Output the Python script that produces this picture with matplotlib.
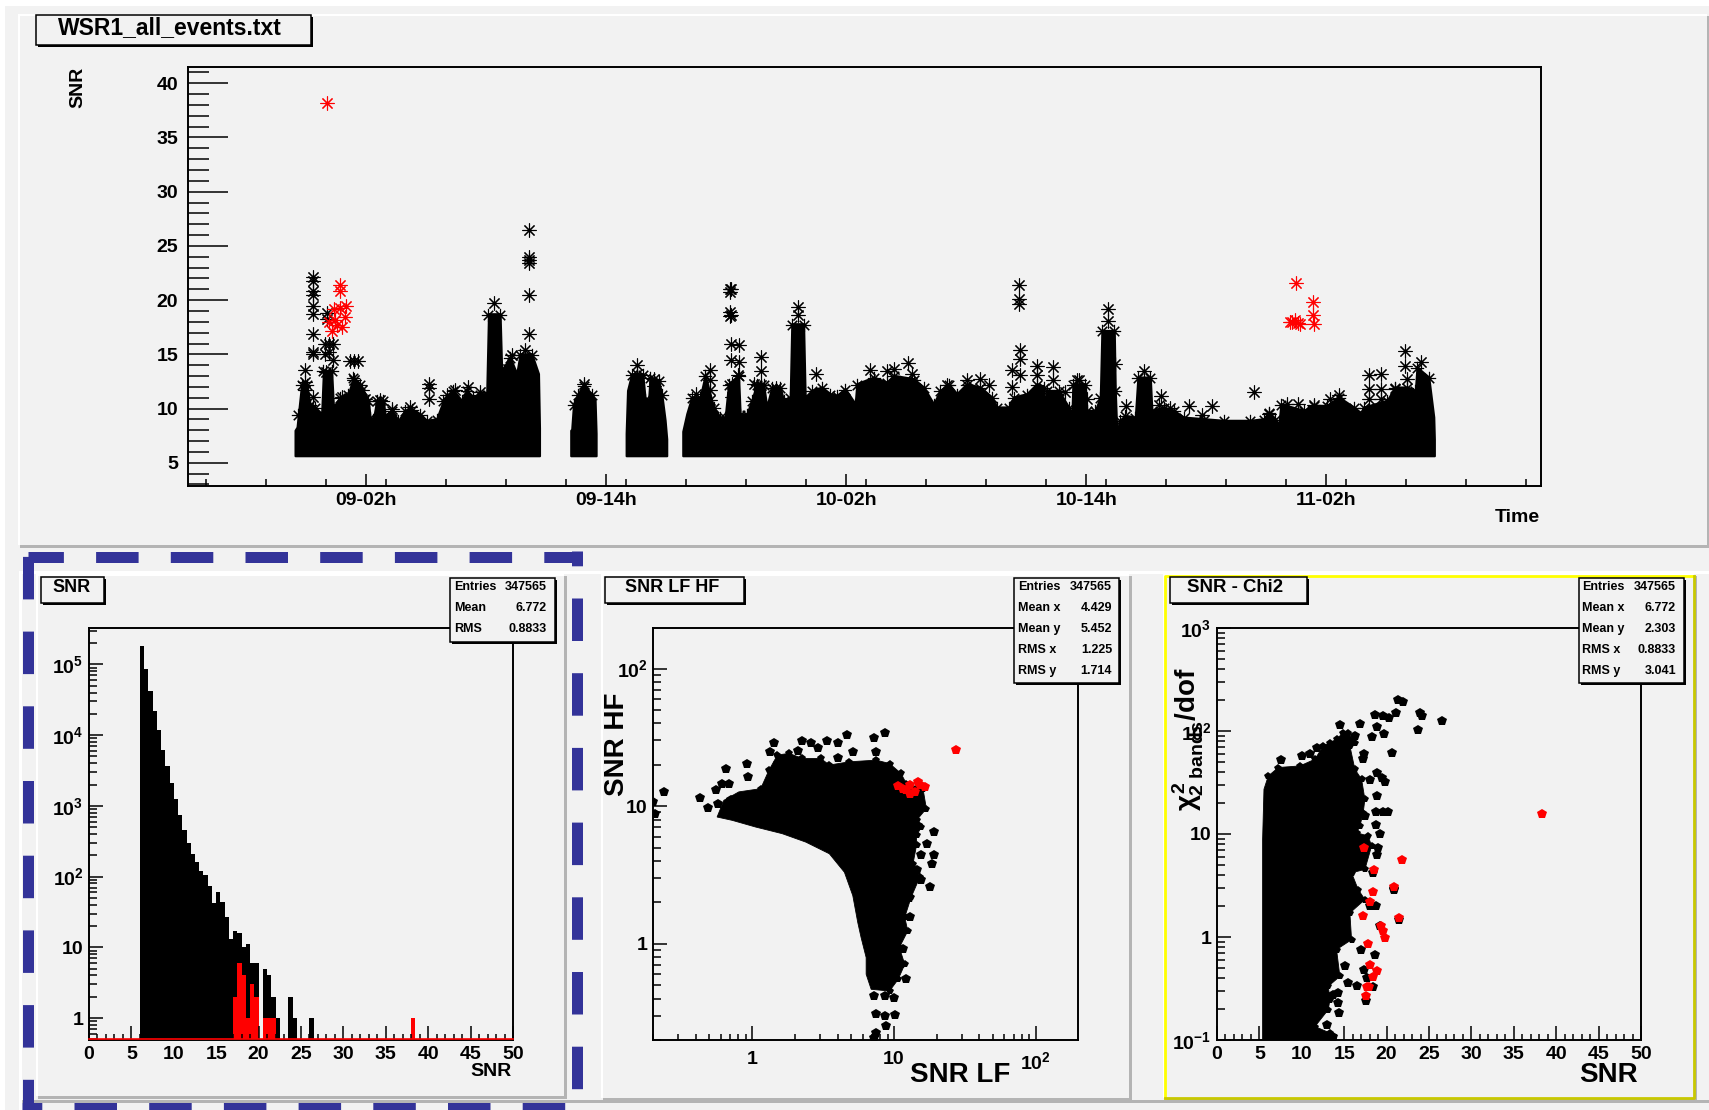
import numpy as np
import matplotlib
matplotlib.use('Agg')
import matplotlib.pyplot as plt
from matplotlib.patches import Rectangle
from matplotlib.lines import Line2D
from matplotlib.ticker import MultipleLocator, LogLocator, NullFormatter, FuncFormatter, FixedLocator

plt.rcParams['font.family'] = ['Liberation Sans', 'DejaVu Sans']
plt.rcParams['font.weight'] = 'bold'
plt.rcParams['mathtext.fontset'] = 'custom'
plt.rcParams['mathtext.rm'] = 'Liberation Sans:bold'
plt.rcParams['mathtext.it'] = 'Liberation Sans:bold'
plt.rcParams['mathtext.bf'] = 'Liberation Sans:bold'
plt.rcParams['lines.scale_dashes'] = False

W, H = 1709, 1110
PANE = '#f2f2f2'
EDGE = '#b4b4b4'
BLUE = '#333399'

# time is in hours after 09-00h
time_ticks = [2, 14, 26, 38, 50]
time_labels = ['09-02h', '09-14h', '10-02h', '10-14h', '11-02h']
snr_floor = 5.65

run1_t = [-1.55, -1.45, -1.38, -1.22, -0.97, -0.8, -0.55, -0.22, -0.13, 0.28, 0.37, 0.7, 1.12, 1.37, 1.7, 2.12, 2.2, 2.37,
          2.53, 2.87, 2.95, 3.28, 3.62, 3.95, 4.28, 4.7, 5.03, 5.53, 5.87, 6.37, 6.78, 7.03, 7.37, 7.7, 8.03, 8.12,
          8.7, 8.78, 9.2, 9.53, 9.7, 10.28, 10.62, 10.67]
run1_snr = [8.3, 8.6, 9.83, 12.6, 12.6, 10.75, 10.45, 9.83, 13.83, 13.83, 10.45, 11.37, 11.68, 13.21, 12.6, 11.06, 9.52, 9.37,
            11.06, 11.06, 9.68, 10.14, 9.22, 10.14, 10.29, 9.83, 9.22, 9.37, 11.06, 11.98, 11.06, 11.98, 11.37, 11.68,
            11.68, 19.05, 19.05, 13.83, 15.05, 13.52, 15.36, 15.36, 13.52, 8.5]
run2_t = [12.23, 12.28, 12.37, 12.6, 12.87, 13.28, 13.45, 13.5]
run2_snr = [8.3, 8.4, 10.75, 11.68, 12.44, 11.68, 11.06, 8.0]
run3_t = [15.0, 15.07, 15.28, 15.83, 15.95, 16.12, 16.2, 16.62, 16.78, 16.95, 17.03]
run3_snr = [8.0, 11.98, 13.52, 13.52, 11.21, 11.06, 13.21, 12.9, 11.68, 9.22, 7.5]
run4_t = [17.83, 18.03, 18.28, 18.7, 18.95, 19.37, 19.7, 19.95, 20.12, 20.62, 20.7, 21.03, 21.28, 21.53, 21.87, 22.03,
          22.28, 22.7, 22.87, 23.2, 23.28, 23.87, 23.95, 24.28, 24.78, 25.2, 25.53, 25.95, 26.45, 26.53, 27.37, 28.03,
          28.37, 29.37, 29.87, 30.37, 30.7, 31.12, 31.53, 32.03, 32.7, 33.28, 33.53, 34.12, 34.37, 35.03, 35.53, 35.87,
          35.95, 36.03, 36.62, 37.12, 37.28, 37.33, 37.95, 38.03, 38.45, 38.7, 38.78, 39.4, 39.45, 39.53, 39.67, 39.95,
          40.45, 40.58, 41.2, 41.28, 41.87, 42.37, 42.87, 43.87, 44.87, 46.2, 46.87, 47.12, 47.45, 47.62, 47.73, 48.87,
          49.37, 50.03, 50.62, 51.37, 51.78, 51.87, 53.03, 53.45, 54.03, 54.45, 54.53, 55.12, 55.37, 55.4]
run4_snr = [8.2, 9.83, 11.37, 11.37, 13.37, 10.45, 9.52, 9.52, 12.6, 13.37, 9.83, 9.83, 11.06, 12.6, 12.6, 10.45,
            12.29, 12.29, 11.06, 11.37, 18.13, 18.13, 11.37, 11.98, 12.29, 11.68, 11.52, 12.14, 10.75, 12.6, 13.21, 12.75,
            13.37, 13.06, 12.29, 10.75, 11.98, 12.6, 11.68, 12.6, 12.29, 11.37, 10.45, 10.45, 11.37, 11.68, 12.6, 12.29,
            10.29, 11.98, 11.98, 10.45, 9.52, 12.6, 12.6, 10.14, 10.14, 11.37, 17.51, 17.51, 12.0, 8.0, 9.22, 9.68,
            9.52, 13.21, 13.21, 10.14, 10.45, 10.14, 9.52, 9.37, 9.22, 9.22, 9.37, 9.99, 9.37, 8.76, 10.75, 10.14,
            10.6, 10.6, 11.37, 10.45, 9.83, 10.45, 11.06, 12.29, 12.29, 11.98, 14.13, 13.21, 9.52, 7.5]

black_t = [-0.66, -0.66, -0.66, -0.66, -0.67, -0.67, -0.67, -0.67, -0.67, -1.05, -1.05, -1.05, -0.63, 0.03, 0.03, 0.17,
           -0.05, 0.37, 0.17, -0.05, 0.37, 0.0, 1.42, 1.2, 1.62, 1.42, 0.78, 1.2, 1.78, 1.95, 2.7, 3.28, 4.2, 5.17, 5.17,
           5.17, 6.45, 6.03, 7.12, 7.12, 7.7, 8.42, 10.15, 10.15, 10.15, 10.15, 10.15, 10.15, 9.28, 9.12, 9.95, 12.87,
           15.53, 15.53, 16.37, 16.37, 20.25, 20.25, 20.25, 20.62, 20.25, 20.62, 20.57, 20.28, 20.28, 19.17, 19.17, 19.17,
           19.17, 18.48, 20.2, 20.2, 20.2, 20.2, 21.75, 21.75, 21.4, 21.75, 22.5, 23.57, 23.57, 23.57, 24.5, 27.17, 28.03,
           28.37, 29.07, 29.28, 32.03, 32.7, 33.12, 31.03, 34.65, 34.65, 34.65, 34.67, 34.67, 34.28, 34.28, 34.7, 35.53,
           35.53, 36.33, 36.33, 36.92, 37.53, 37.65, 38.03, 39.08, 39.08, 39.45, 40.0, 40.87, 41.73, 41.62, 42.2, 43.12,
           44.28, 43.78, 46.37, 47.15, 48.03, 48.57, 49.37, 50.2, 50.62, 52.12, 52.12, 52.12, 52.73, 52.73, 52.73, 53.95,
           53.95, 54.03, 54.73, 53.45]
black_snr = [22.1, 21.8, 20.8, 20.5, 19.5, 18.68, 16.9, 15.2, 15.0, 13.52, 12.44, 11.68, 11.06, 18.8, 18.3, 15.98,
             15.98, 15.98, 15.2, 15.05, 14.44, 13.37, 14.35, 14.35, 14.35, 12.6, 11.06, 10.9, 11.68, 10.9, 10.75, 9.98,
             10.14, 12.29, 11.9, 10.9, 11.68, 11.21, 11.98, 10.29, 11.52, 19.72, 26.5, 24.0, 23.7, 23.4, 20.5, 16.9, 14.9,
             13.67, 15.36, 12.29, 13.98, 13.21, 12.75, 12.1, 18.65, 21.0, 16.0, 15.82, 14.44, 14.29, 13.06, 12.29, 11.06,
             13.52, 12.6, 11.68, 10.75, 11.37, 21.0, 20.75, 18.9, 18.5, 14.75, 13.43, 12.29, 12.14, 11.89, 19.36, 18.59,
             14.13, 13.21, 13.58, 13.46, 13.67, 14.2, 13.15, 12.6, 12.69, 12.14, 12.14, 21.4, 20.1, 19.65, 15.36, 14.6,
             13.58, 11.98, 13.06, 13.92, 13.06, 13.83, 12.6, 11.52, 12.6, 12.6, 10.9, 19.2, 18.07, 14.13, 10.2, 13.46,
             11.15, 10.29, 10.08, 10.2, 10.2, 9.37, 11.52, 9.52, 10.45, 10.45, 10.29, 10.85, 11.21, 13.06, 11.83, 10.9,
             13.21, 11.83, 10.9, 15.27, 13.92, 12.75, 14.29, 11.83]
red_t = [0.05, 0.71, 0.71, 1.0, 0.7, 0.38, 0.93, 0.44, 0.16, 0.57, 0.3, 0.8,
         48.5, 49.33, 49.33, 49.37, 48.3, 48.45, 48.6, 48.7, 48.2]
red_snr = [38.2, 21.4, 20.85, 19.5, 19.3, 19.2, 18.4, 18.2, 18.0, 17.7, 17.2, 17.5,
           21.6, 19.8, 18.59, 17.82, 18.0, 18.13, 17.9, 17.82, 18.0]

# SNR histogram, bins 0.5 wide
hist_edges = np.arange(6, 26.51, 0.5)
hist_counts = [181000, 84700, 41600, 21700, 11700, 6200, 3630, 2080, 1240, 733, 462, 302, 206, 163, 121, 105, 74, 42,
               61, 44, 27, 13, 17, 16, 10, 11, 6, 6, 0, 5, 4, 2, 1, 0, 0, 2, 1, 0, 0, 0, 1]
hist_red_edges = np.arange(17, 22.01, 0.5)
hist_red_counts = [2, 6, 4, 1, 3, 2, 0, 1, 1, 1]
hist_far_edges = [38.0, 38.5]
hist_far_counts = [1]

# SNR LF / SNR HF
lfhf_edge_x = [0.566, 0.632, 0.806, 1.148, 1.315, 1.506, 1.82, 2.26, 3.05, 3.5, 4.84, 7.48, 9.3, 11.2, 12.2, 16.0, 16.9,
               14.4, 15.6, 14.4, 14.4, 13.6, 15.2, 13.2, 11.9, 12.5, 10.9, 11.9, 10.7, 9.3, 6.9, 6.36, 6.36, 5.86, 5.55,
               5.12, 4.47, 3.5, 2.39, 1.63, 1.06, 0.723]
lfhf_edge_y = [8.34, 11.03, 12.7, 13.4, 18.3, 23.5, 24.2, 22.2, 22.2, 19.9, 21.0, 21.6, 20.4, 17.3, 14.6, 13.4, 9.6,
               7.89, 7.05, 6.13, 5.18, 3.81, 3.05, 2.18, 1.56, 1.24, 0.94, 0.71, 0.552, 0.454, 0.467, 0.601, 0.795, 1.11,
               1.43, 2.24, 3.31, 4.51, 5.48, 6.31, 7.05, 7.89]
lfhf_x = [1.43, 1.34, 2.26, 2.59, 2.89, 3.35, 2.09, 4.05, 4.64, 7.28, 8.57, 5.12, 7.48, 4.05, 0.924, 0.659, 0.94, 0.615,
          0.692, 0.56, 0.432, 0.489, 0.575, 0.705, 1.51, 1.82, 1.55, 1.68, 19.2, 17.1, 15.4, 19.2, 18.6, 15.4, 17.9,
          12.9, 11.6, 11.2, 12.2, 9.93, 7.28, 8.57, 7.48, 8.57, 10.1, 8.81, 7.48, 7.28, 14.8, 14.4, 12.7, 0.24, 0.2, 0.207]
lfhf_y = [29.0, 24.6, 29.9, 28.6, 26.3, 29.9, 25.3, 29.0, 32.9, 31.4, 33.8, 24.6, 24.6, 22.5, 20.4, 18.5, 16.3, 14.6,
          14.4, 13.2, 11.4, 9.75, 10.4, 11.0, 20.4, 19.3, 16.3, 21.0, 6.49, 5.27, 4.43, 4.43, 3.81, 2.91, 2.6,
          1.56, 0.914, 0.719, 0.552, 0.402, 0.418, 0.418, 0.31, 0.299, 0.302, 0.252, 0.226, 0.207, 7.13, 3.41, 2.14, 12.7, 10.7, 8.83]
lfhf_red_x = [27.5, 10.6, 11.6, 12.9, 14.8, 16.4, 12.9, 14.0, 12.2, 15.2]
lfhf_red_y = [25.8, 14.0, 13.4, 14.2, 15.0, 13.8, 12.3, 12.7, 13.1, 14.2]

# SNR / chi2
chi_edge_x = [5.38, 5.38, 5.54, 6.05, 7.23, 9.78, 11.55, 12.53, 13.32, 14.1, 14.89, 15.48, 16.26, 15.67, 16.26, 17.05,
              17.44, 17.24, 16.85, 16.46, 17.83, 18.23, 17.44, 15.87, 16.65, 17.44, 15.67, 15.87, 14.1, 14.49, 13.12, 13.32,
              13.12, 11.55, 13.32, 13.32]
chi_edge_y = [0.1, 8.86, 27.2, 36.6, 44.2, 45.8, 53.2, 71.6, 77.2, 83.2, 96.6, 96.6, 77.2, 71.6, 42.5, 34.0,
              21.7, 16.1, 11.9, 10.3, 9.55, 7.64, 4.53, 4.2, 2.89, 2.31, 1.71, 0.942, 0.755, 0.415, 0.332, 0.246,
              0.197, 0.135, 0.117, 0.1]
chi_x = [21.88, 18.62, 19.6, 20.31, 21.09, 23.92, 24.23, 26.55, 23.65, 16.85, 14.49, 18.89, 19.72, 18.23, 20.58, 17.32,
         17.24, 18.81, 19.4, 19.8, 18.03, 18.89, 18.74, 19.6, 20.19, 17.44, 18.74, 19.21, 18.93, 18.89, 18.34, 20.86,
         18.74, 18.03, 19.21, 18.62, 16.93, 15.08, 17.32, 15.48, 16.46, 18.34, 14.3, 13.71, 14.3, 17.52, 14.42, 12.92,
         13.71, 16.26, 11.74, 9.98, 7.5, 10.96, 17.64, 21.4, 20.9, 21.45]
chi_y = [192, 143, 140, 135, 149, 149, 140, 124, 103, 118, 114, 110, 94.4, 87.7, 61.7, 59.4,
         53.2, 38.8, 35.2, 32, 33.2, 23.4, 16.3, 16.3, 16.3, 14.9, 12.2, 10.1, 7.35, 6.32, 4.2, 2.93,
         1.99, 1.99, 1.27, 0.673, 0.755, 0.526, 0.481, 0.357, 0.332, 0.327, 0.285, 0.275, 0.228, 0.237, 0.182, 0.14,
         0.108, 89.5, 69, 57.2, 51.9, 59.4, 0.399, 202, 2.85, 1.46]
chi_red_x = [38.28, 17.36, 21.76, 18.54, 20.9, 18.38, 18.03, 17.16, 21.45, 19.29, 19.6, 19.87, 17.83, 18.03, 18.89, 18.34,
             17.95, 17.64, 17.52]
chi_red_y = [15.8, 7.35, 5.57, 4.46, 3.04, 2.74, 2.21, 1.59, 1.53, 1.27, 1.15, 0.986, 0.855, 0.53, 0.471, 0.408,
             0.327, 0.327, 0.269]

stats_hist = [('Entries', '347565'), ('Mean', '6.772'), ('RMS', '0.8833')]
stats_lfhf = [('Entries', '347565'), ('Mean x', '4.429'), ('Mean y', '5.452'), ('RMS x', '1.225'), ('RMS y', '1.714')]
stats_chi = [('Entries', '347565'), ('Mean x', '6.772'), ('Mean y', '2.303'), ('RMS x', '0.8833'), ('RMS y', '3.041')]


def px_axes(left, top, right, bottom):
    return fig.add_axes([left / W, 1 - bottom / H, (right - left) / W, (bottom - top) / H])


def log_label(v, pos):
    if v == 1:
        return '1'
    if v == 10:
        return '10'
    return '$10^{%d}$' % round(np.log10(v))


def style_axes(ax):
    ax.patch.set_alpha(0)
    for s in ax.spines.values():
        s.set_linewidth(1.4)
    ax.tick_params(which='both', direction='in', width=1.1, labelsize=14, pad=4)


def log_axis(axis):
    axis.set_major_locator(LogLocator(base=10, numticks=12))
    axis.set_minor_locator(LogLocator(base=10, subs=range(2, 10), numticks=12))
    axis.set_major_formatter(FuncFormatter(log_label))
    axis.set_minor_formatter(NullFormatter())


def rect(x0, y0, x1, y1, color, z=1):
    bg.add_patch(Rectangle((x0, y0), x1 - x0, y1 - y0, fc=color, ec='none', zorder=z))


def pane(x0, y0, x1, y1):
    rect(x0 - 2, y0 - 2, x1, y1, 'white', 2)
    rect(x0, y0, x1 + 3, y1 + 3, EDGE, 2)
    rect(x0, y0, x1, y1, PANE, 3)


def label_box(x0, y0, x1, y1, text, tx, ty, size):
    top.add_patch(Rectangle((x0 + 2, y0 + 2), x1 - x0, y1 - y0, fc='black', ec='none', zorder=5))
    top.add_patch(Rectangle((x0, y0), x1 - x0, y1 - y0, fc=PANE, ec='black', lw=1.1, zorder=6))
    top.text(tx, ty, text, fontsize=size, ha='center', va='center', zorder=7)


def stat_box(x0, y0, x1, y1, tl, tr, ys, rows):
    top.add_patch(Rectangle((x0 + 2, y0 + 2), x1 - x0, y1 - y0, fc='black', ec='none', zorder=5))
    top.add_patch(Rectangle((x0, y0), x1 - x0, y1 - y0, fc=PANE, ec='black', lw=1.1, zorder=6))
    for y, (name, val) in zip(ys, rows):
        top.text(tl, y, name, fontsize=9, ha='left', va='center', zorder=7)
        top.text(tr, y, val, fontsize=9, ha='right', va='center', zorder=7)


fig = plt.figure(figsize=(W / 100, H / 100), dpi=100, facecolor='white')

bg = fig.add_axes([0, 0, 1, 1], zorder=0)
bg.set_xlim(0, W)
bg.set_ylim(H, 0)
bg.axis('off')

rect(5, 6, W, H, PANE)
rect(20, 16, 1707, 545, PANE, 2)
rect(18, 14, 1707, 16, 'white', 2)
rect(18, 14, 20, 545, 'white', 2)
rect(20, 545, 1707, 548, EDGE, 2)
rect(1707, 16, 1709, 548, EDGE, 2)
rect(20, 571, W, 574, 'white', 2)
rect(19, 571, 22, H, 'white', 2)
rect(20, 1100, W, 1103, EDGE, 1)
pane(38, 576, 564, 1096)
pane(603, 576, 1129, 1098)
pane(1165, 576, 1694, 1098)

# yellow selection frame around the third pad
bg.add_line(Line2D([1165, 1165, 1694], [1098, 576, 576], color='#ffff00', lw=2, zorder=4))
bg.add_line(Line2D([1165, 1694, 1694], [1098, 1098, 576], color='#c8c800', lw=2, zorder=4))

# dashed blue frame around the first pad, dashes given in points
dash = (42.5 * 0.72, 32.2 * 0.72)
for xs, ys, phase in [([28, 582], [556.5, 556.5], 7.1), ([28, 28], [551, H], 69.3), ([577, 577], [551, 1095], 27.7),
                      ([22, 578], [1107.5, 1107.5], 22.7)]:
    bg.add_line(Line2D(xs, ys, color=BLUE, lw=11 * 0.72, ls=(phase * 0.72, dash), dash_capstyle='butt', zorder=5))

# time series, the solid part is ringed with the same asterisks as the outliers
star = (8, 2, 0)
ax = px_axes(188, 67, 1541, 486)
style_axes(ax)
for t, s in [(run1_t, run1_snr), (run2_t, run2_snr), (run3_t, run3_snr), (run4_t, run4_snr)]:
    s = np.array(s)
    ax.fill_between(t, snr_floor, s - 0.3, color='black', lw=1.5)
    ax.plot(t[2:-2], s[2:-2] - 0.4, ls='', marker=star, ms=9.5, mew=0.8, color='black')
ax.plot(black_t, black_snr, ls='', marker=star, ms=10, mew=0.8, color='black')
ax.plot(red_t, red_snr, ls='', marker=star, ms=10, mew=0.8, color='red')
ax.set_xlim(-6.9, 60.73)
ax.set_ylim(2.86, 41.5)
ax.xaxis.set_major_locator(FixedLocator(time_ticks))
ax.set_xticklabels(time_labels)
ax.xaxis.set_minor_locator(MultipleLocator(3))
ax.yaxis.set_major_locator(MultipleLocator(5))
ax.yaxis.set_minor_locator(MultipleLocator(1))
ax.set_yticks([5, 10, 15, 20, 25, 30, 35, 40])
ax.tick_params(axis='x', which='major', length=9)
ax.tick_params(axis='x', which='minor', length=5)
ax.tick_params(axis='y', which='major', length=29, pad=7)
ax.tick_params(axis='y', which='minor', length=15)

# histogram
ax = px_axes(89, 628, 513, 1040)
style_axes(ax)
ax.set_yscale('log')
ax.stairs(np.where(np.array(hist_counts) > 0, hist_counts, 0.5), hist_edges, fill=True, baseline=0.5, color='black', lw=0)
ax.stairs(np.where(np.array(hist_red_counts) > 0, hist_red_counts, 0.5), hist_red_edges, fill=True, baseline=0.5, color='red', lw=0)
ax.stairs(hist_far_counts, hist_far_edges, fill=True, baseline=0.5, color='red', lw=0)
ax.axhline(0.5, color='red', lw=1.2, clip_on=False, zorder=5)
ax.set_xlim(0, 50)
ax.set_ylim(0.49, 3.27e5)
log_axis(ax.yaxis)
ax.xaxis.set_major_locator(MultipleLocator(5))
ax.xaxis.set_minor_locator(MultipleLocator(1))
ax.tick_params(axis='x', which='major', length=10)
ax.tick_params(axis='x', which='minor', length=4.5)
ax.tick_params(axis='y', which='major', length=10)
ax.tick_params(axis='y', which='minor', length=6)

# SNR LF vs SNR HF
ax = px_axes(653, 628, 1078, 1040)
style_axes(ax)
ax.set_xscale('log')
ax.set_yscale('log')
ax.fill(lfhf_edge_x, lfhf_edge_y, color='black', lw=0.6)
ax.plot(lfhf_edge_x[3:30], lfhf_edge_y[3:30], ls='', marker='p', ms=5.5, color='black', mew=0)
ax.plot(lfhf_x, lfhf_y, ls='', marker='p', ms=7.6, color='black', mew=0)
ax.plot(lfhf_red_x, lfhf_red_y, ls='', marker='p', ms=7.6, color='red', mew=0)
ax.set_xlim(0.2, 198)
ax.set_ylim(0.2, 197)
log_axis(ax.xaxis)
log_axis(ax.yaxis)
ax.tick_params(axis='x', which='major', length=10, pad=8)
ax.tick_params(axis='x', which='minor', length=4.5)
ax.tick_params(axis='y', which='major', length=10)
ax.tick_params(axis='y', which='minor', length=6)

# SNR vs chi2
ax = px_axes(1217, 628, 1641, 1040)
style_axes(ax)
ax.set_yscale('log')
ax.fill(chi_edge_x, chi_edge_y, color='black', lw=0.6)
ax.plot(chi_edge_x[3:-1], chi_edge_y[3:-1], ls='', marker='p', ms=5.5, color='black', mew=0)
ax.plot(chi_x, chi_y, ls='', marker='p', ms=7.6, color='black', mew=0)
ax.plot(chi_red_x, chi_red_y, ls='', marker='p', ms=7.6, color='red', mew=0)
ax.set_xlim(0, 50)
ax.set_ylim(0.1, 1000)
log_axis(ax.yaxis)
ax.xaxis.set_major_locator(MultipleLocator(5))
ax.xaxis.set_minor_locator(MultipleLocator(1))
ax.tick_params(axis='x', which='major', length=10)
ax.tick_params(axis='x', which='minor', length=4.5)
ax.tick_params(axis='y', which='major', length=10)
ax.tick_params(axis='y', which='minor', length=6)

# overlay in figure pixels for the ROOT boxes and axis titles
top = fig.add_axes([0, 0, 1, 1], zorder=10)
top.set_xlim(0, W)
top.set_ylim(H, 0)
top.axis('off')

label_box(36, 15, 311, 45, 'WSR1_all_events.txt', 170, 28, 16.5)
label_box(41, 577, 104, 603, 'SNR', 72, 588, 13)
label_box(605, 577, 744, 603, 'SNR LF HF', 672, 588, 13)
label_box(1170, 577, 1307, 603, 'SNR - Chi2', 1235, 588, 13.4)

stat_box(450, 578, 555, 642, 454, 547, [587, 608, 629], stats_hist)
stat_box(1014, 578, 1119, 683, 1018, 1112, [587, 608, 629, 650, 671], stats_lfhf)
stat_box(1579, 578, 1684, 683, 1582, 1676, [587, 608, 629, 650, 671], stats_chi)

top.text(78, 87, 'SNR', fontsize=14, rotation=90, ha='center', va='center')
top.text(1540, 518, 'Time', fontsize=14, ha='right', va='center')
top.text(512, 1071, 'SNR', fontsize=14, ha='right', va='center')
top.text(1010, 1075, 'SNR LF', fontsize=20, ha='right', va='center')
top.text(617, 744, 'SNR HF', fontsize=20, rotation=90, ha='center', va='center')
top.text(1638, 1075, 'SNR', fontsize=20, ha='right', va='center')
top.text(1188, 739, r'$\chi^{2}_{2\ bands}$/dof', fontsize=20, rotation=90, ha='center', va='center')

fig.savefig('out.png', dpi=100, facecolor='white')
